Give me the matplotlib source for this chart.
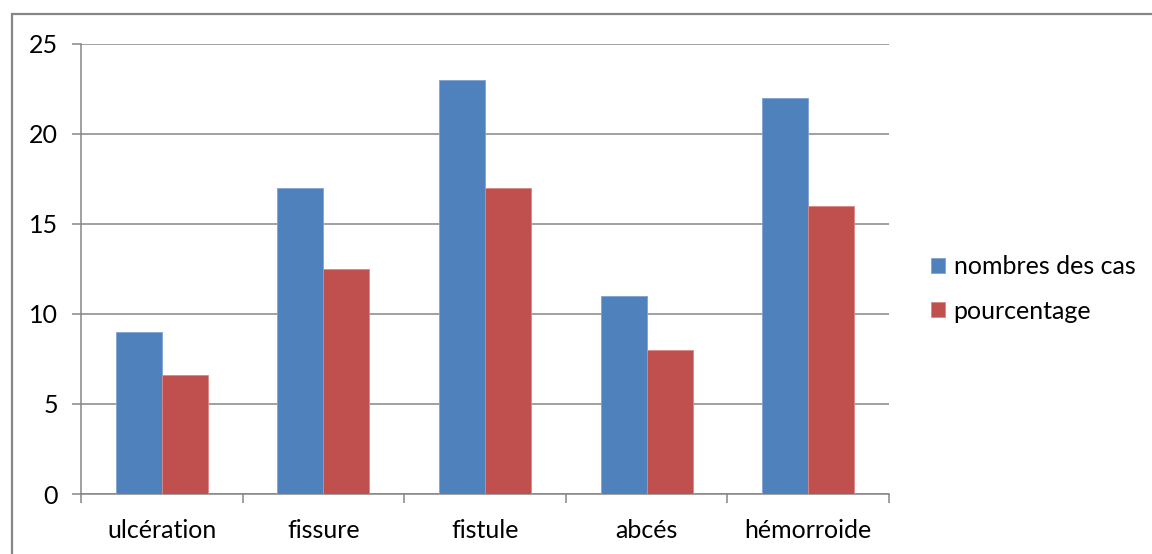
import matplotlib.pyplot as plt
import numpy as np
from matplotlib.patches import Rectangle

categories = ["ulcération", "fissure", "fistule", "abcés", "hémorroide"]
nombres_cas = [9, 17, 23, 11, 22]
pourcentage = [6.6, 12.5, 17, 8, 16]
series_labels = ["nombres des cas", "pourcentage"]

BLUE = "#4F81BD"
RED = "#C0504D"
GREY = "#868686"
FS = 18

plt.rcParams["font.family"] = ["Lato", "DejaVu Sans"]

fig = plt.figure(figsize=(11.52, 5.54), dpi=100)
ax = fig.add_axes([81 / 1152, 60 / 554, 808 / 1152, 450.5 / 554])

x = np.arange(len(categories))
w = 0.285
b1 = ax.bar(x - w / 2, nombres_cas, w, color=BLUE, edgecolor="#7FA3D0", linewidth=0.6,
            label=series_labels[0], zorder=3)
b2 = ax.bar(x + w / 2, pourcentage, w, color=RED, edgecolor="#D98885", linewidth=0.6,
            label=series_labels[1], zorder=3)

ax.set_xlim(-0.5, len(categories) - 0.5)
ax.set_ylim(0, 25)
ax.set_yticks(range(0, 26, 5))
ax.yaxis.grid(True, color=GREY, linewidth=1.1, zorder=0)
ax.set_axisbelow(True)

for s in ["top", "right"]:
    ax.spines[s].set_visible(False)
for s in ["left", "bottom"]:
    ax.spines[s].set_color(GREY)
    ax.spines[s].set_linewidth(1.1)

ax.set_xticks(x)
ax.set_xticklabels(categories)
ax.set_xticks(np.arange(-0.5, len(categories)), minor=True)
ax.tick_params(axis="x", which="major", length=0, pad=18, labelsize=FS)
ax.tick_params(axis="x", which="minor", length=6.5, color=GREY, width=1.1, direction="out")
ax.tick_params(axis="y", length=6.5, color=GREY, width=1.1, pad=10, labelsize=FS)

fig.legend(handles=[b1, b2], labels=series_labels, loc="center left",
           bbox_to_anchor=(931 / 1152, 265 / 554), frameon=False, fontsize=FS,
           handlelength=0.55, handleheight=0.55, handletextpad=0.35,
           labelspacing=0.85, borderpad=0, borderaxespad=0)

# outer chart frame, open on the right and bottom
fig.patches.append(Rectangle((12 / 1152, -0.1), 1.2, (554 - 14) / 554 + 0.1,
                             transform=fig.transFigure, fill=False,
                             edgecolor=GREY, linewidth=1.6, zorder=0))

fig.savefig("out.png", dpi=100)
